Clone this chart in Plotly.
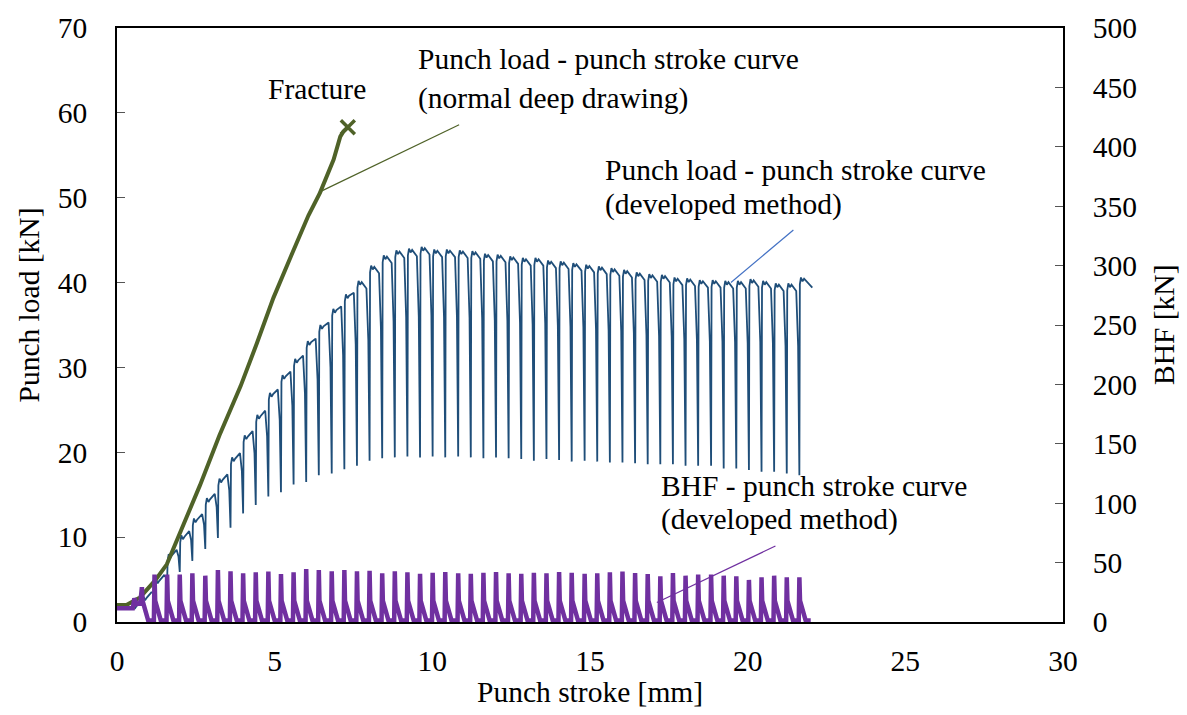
import plotly.graph_objects as go

# ---------------- data ----------------
# normal deep drawing: punch load vs stroke
green_x = [0.0, 0.30, 0.73, 1.21, 1.58, 1.89, 2.21, 2.63, 3.25, 3.92, 4.43, 4.96, 5.54, 6.07, 6.44, 6.87, 7.08, 7.18, 7.32]
green_y = [2.0, 2.0, 2.9, 4.9, 6.8, 9.5, 12.2, 16.1, 22.0, 27.8, 32.8, 38.2, 43.3, 47.9, 50.6, 54.5, 57.2, 57.8, 58.3]
fracture_x = [7.32]
fracture_y = [58.3]

# developed method: stroke position of each BHF pulse [mm]
spike_x = [0.79, 1.19, 1.59, 1.99, 2.39, 2.80, 3.20, 3.60, 4.00, 4.40,
           4.80, 5.20, 5.60, 6.00, 6.40, 6.81, 7.21, 7.61, 8.01, 8.41,
           8.81, 9.21, 9.61, 10.01, 10.41, 10.82, 11.22, 11.62, 12.02, 12.42,
           12.82, 13.22, 13.62, 14.02, 14.42, 14.83, 15.23, 15.63, 16.03, 16.43,
           16.83, 17.23, 17.63, 18.03, 18.43, 18.84, 19.24, 19.64, 20.04, 20.44,
           20.84, 21.24, 21.64]
# punch load: top of each plateau, value at end of plateau, trough at each pulse [kN]
blue_top = [3.0, 5.0, 8.0, 10.2, 12.2, 14.6, 16.9, 19.4, 22.0, 24.4,
            27.0, 29.1, 31.0, 33.1, 35.0, 36.9, 38.6, 40.2, 42.0, 43.2,
            43.8, 44.0, 44.2, 43.9, 43.9, 43.8, 43.7, 43.4, 43.3, 43.1,
            42.9, 42.9, 42.6, 42.5, 42.3, 42.1, 41.9, 41.7, 41.5, 41.2,
            41.0, 40.9, 40.6, 40.5, 40.3, 40.3, 40.2, 40.2, 40.4, 40.2,
            39.9, 39.9, 40.6]
blue_end = [3.5, 5.5, 8.5, 10.7, 12.7, 15.1, 17.4, 19.9, 22.5, 24.9,
            27.4, 29.5, 31.4, 33.4, 35.3, 37.2, 38.8, 39.3, 41.1, 42.3,
            42.9, 43.1, 43.3, 43.0, 43.0, 42.9, 42.8, 42.5, 42.4, 42.2,
            42.0, 42.0, 41.7, 41.6, 41.4, 41.2, 41.0, 40.8, 40.6, 40.3,
            40.1, 40.0, 39.7, 39.6, 39.4, 39.4, 39.3, 39.3, 39.5, 39.3,
            39.0, 39.0, 39.4]
blue_trough = [2.4, 3.6, 4.8, 5.9, 7.2, 8.6, 9.9, 11.1, 12.8, 13.8,
               14.8, 15.3, 16.2, 16.5, 17.3, 17.5, 18.0, 18.4, 19.0, 19.3,
               19.4, 19.5, 19.4, 19.5, 19.4, 19.5, 19.4, 19.3, 19.4, 19.3,
               19.2, 19.0, 19.2, 19.1, 18.9, 19.0, 18.9, 18.8, 18.8, 18.7,
               18.6, 18.6, 18.6, 18.4, 18.4, 18.4, 18.1, 18.1, 17.9, 17.7,
               17.7, 17.5, 17.3]
blue_start_x = [0.0, 0.57, 0.75]
blue_start_y = [1.6, 1.6, 2.6]
blue_last_x = 22.05

# BHF pulses (right axis) [kN]
bhf_peak = [29.3, 39.9, 39.9, 39.9, 41.0, 39.0, 43.8, 42.7, 41.0, 41.8,
            42.4, 40.4, 41.8, 44.6, 43.8, 42.7, 43.8, 42.7, 43.2, 41.0,
            42.7, 41.8, 40.5, 41.5, 42.0, 41.0, 40.5, 41.5, 42.0, 41.0,
            40.5, 41.5, 41.0, 42.0, 41.5, 40.5, 41.0, 41.8, 42.4, 41.3,
            40.4, 38.5, 41.3, 39.0, 39.9, 39.9, 39.0, 38.5, 35.4, 37.6,
            39.0, 37.6, 37.6]
bhf_knee = 18.0
bhf_base = 1.2
bhf_start_x = [0.0, 0.50, 0.55, 0.62, 0.74]
bhf_start_y = [11.5, 11.5, 20.0, 15.0, 16.0]
bhf_last_x = 22.0

x_ticks = [0, 5, 10, 15, 20, 25, 30]
y_ticks = [0, 10, 20, 30, 40, 50, 60, 70]
y2_ticks = [0, 50, 100, 150, 200, 250, 300, 350, 400, 450, 500]

# ---------------- build the traces ----------------
n = len(spike_x)
bx, by = list(blue_start_x), list(blue_start_y)
for k in range(n):
    s = spike_x[k]
    p, e, t = blue_top[k], blue_end[k], blue_trough[k]
    bx += [s, s + 0.015, s + 0.05, s + 0.10, s + 0.15]
    by += [t, p - 0.8, p, p - 0.45, p - 0.15]
    if k < n - 1:
        nx, nt = spike_x[k + 1], blue_trough[k + 1]
        bx += [nx - 0.10, nx - 0.04]
        by += [e, e - 0.3 * (e - nt)]
    else:
        bx += [blue_last_x]
        by += [e]

px_, py_ = list(bhf_start_x), list(bhf_start_y)
for k in range(n):
    s = spike_x[k]
    if k > 0:
        px_ += [s - 0.02]
        py_ += [bhf_base]
    px_ += [s, s + 0.02, s + 0.20]
    py_ += [bhf_peak[k], bhf_knee, bhf_base]
px_ += [bhf_last_x]
py_ += [bhf_base]

GREEN = "#4F6228"
BLUE = "#1F4E79"
PURPLE = "#7030A0"
FONT = "Liberation Serif"
FS = 29.5

fig = go.Figure()
fig.add_trace(go.Scatter(x=px_, y=py_, mode="lines", yaxis="y2",
                         line=dict(color=PURPLE, width=4.5), showlegend=False))
fig.add_trace(go.Scatter(x=bx, y=by, mode="lines",
                         line=dict(color=BLUE, width=1.8), showlegend=False))
fig.add_trace(go.Scatter(x=green_x, y=green_y, mode="lines",
                         line=dict(color=GREEN, width=4), showlegend=False))
fig.add_trace(go.Scatter(x=fracture_x, y=fracture_y, mode="markers",
                         marker=dict(symbol="x-thin", size=14, color=GREEN,
                                     line=dict(color=GREEN, width=3.5)),
                         showlegend=False))

# leader lines
fig.add_shape(type="line", x0=6.38, y0=50.6, x1=10.85, y1=58.6,
              line=dict(color=GREEN, width=1.2))
fig.add_shape(type="line", x0=19.47, y0=40.0, x1=21.45, y1=46.2,
              line=dict(color="#4472C4", width=1.2))
fig.add_shape(type="line", x0=17.12, y0=2.3, x1=20.88, y1=8.95,
              line=dict(color=PURPLE, width=1.2))

L, R, T, B = 116.5, 1063.0, 20.5, 622.0
def ax(px):
    return (px - L) / (R - L) * 30.0
def ay(py):
    return (B - py) / (B - T) * 70.0

ann = [
    ("Fracture", 266, 82),
    ("Punch load - punch stroke curve", 416, 52),
    ("(normal deep drawing)", 416, 92),
    ("Punch load - punch stroke curve", 603, 164),
    ("(developed method)", 603, 199),
    ("BHF - punch stroke curve", 659, 484),
    ("(developed method)", 659, 518),
]
for txt, x, y in ann:
    fig.add_annotation(x=ax(x), y=ay(y), xref="x", yref="y", text=txt,
                       showarrow=False, xanchor="left", yanchor="middle",
                       font=dict(family=FONT, size=FS, color="black"))

fig.add_annotation(x=0.0, y=0.5, xref="paper", yref="paper", text="Punch load [kN]",
                   textangle=-90, showarrow=False, xanchor="center", yanchor="middle",
                   xshift=-(L - 28), yshift=20,
                   font=dict(family=FONT, size=FS, color="black"))
fig.add_annotation(x=1.0, y=0.5, xref="paper", yref="paper", text="BHF [kN]",
                   textangle=-90, showarrow=False, xanchor="center", yanchor="middle",
                   xshift=1164 - R,
                   font=dict(family=FONT, size=FS, color="black"))
fig.add_annotation(x=0.5, y=0.0, xref="paper", yref="paper", text="Punch stroke [mm]",
                   showarrow=False, xanchor="center", yanchor="middle",
                   yshift=-(692 - B),
                   font=dict(family=FONT, size=FS, color="black"))

fig.update_layout(
    width=1187, height=715,
    margin=dict(l=L, r=1187 - R, t=T, b=715 - B),
    paper_bgcolor="white", plot_bgcolor="white",
    font=dict(family=FONT, size=FS, color="black"),
    xaxis=dict(range=[0, 30], tickvals=x_ticks, showgrid=False, zeroline=False,
               showline=True, linecolor="black", linewidth=1.5, mirror=True,
               ticks="", ticklabelstandoff=12),
    yaxis=dict(range=[0, 70], tickvals=y_ticks, showgrid=False, zeroline=False,
               showline=True, linecolor="black", linewidth=1.5, mirror=True,
               ticks="inside", ticklen=8, tickcolor="#555555", ticklabelstandoff=22),
    yaxis2=dict(range=[0, 500], tickvals=y2_ticks, overlaying="y", side="right",
                showgrid=False, zeroline=False, showline=True, linecolor="black",
                linewidth=1.5, ticks="inside", ticklen=8, tickcolor="#555555",
                ticklabelstandoff=22),
)

fig.write_html("out.html")
